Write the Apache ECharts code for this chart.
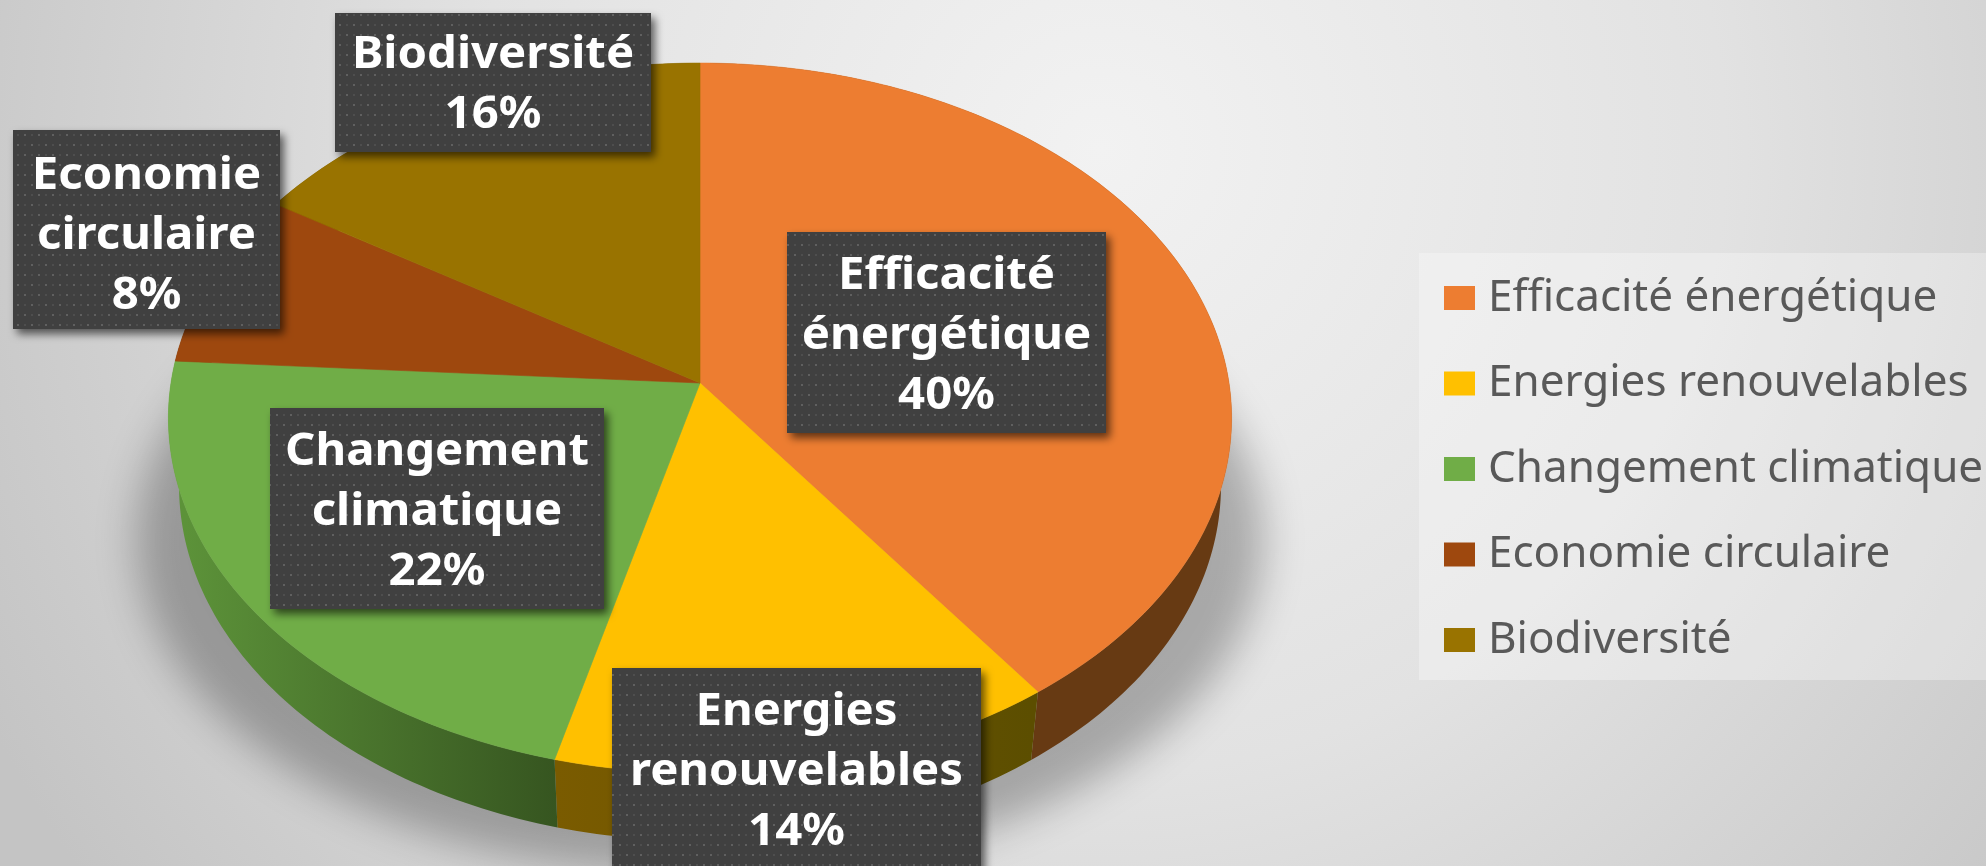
<!DOCTYPE html>
<html>
<head>
<meta charset="utf-8">
<style>html,body{margin:0;padding:0;background:#ddd}#c{width:1986px;height:866px}</style>
<script src="https://cdn.jsdelivr.net/npm/echarts@6/dist/echarts.min.js"></script>
</head>
<body>
<div id="c"></div>
<script>
// ---- data ----
const categories = ['Efficacité énergétique','Energies renouvelables','Changement climatique','Economie circulaire','Biodiversité'];
const values = [40,14,22,8,16];
const labelLines = ['Efficacité\nénergétique','Energies\nrenouvelables','Changement\nclimatique','Economie\ncirculaire','Biodiversité'];
// ---- styles ----
const topColors = ['#ED7D31','#FFC000','#70AD47','#9E480E','#997300'];
const sideColors = [['#673a13','#673a13'],['#5c4e00','#7a5b00'],['#365520','#5c9239'],['#5e2b08','#5e2b08'],['#5b4500','#5b4500']];
// ---- projection of the tilted disc ----
const P = {cx:700, cy:383, A:529, B:351.5, k:0.0986, depth:68, shrink:0.98};
function proj(frac){
  const t = frac*2*Math.PI, X = Math.sin(t), Y = Math.cos(t), d = 1+P.k*Y;
  return [P.cx + P.A*X/d, P.cy - P.B*Y/d];
}
function lower(p){ return [P.cx+(p[0]-P.cx)*P.shrink, p[1]+P.depth]; }
// ---- label box layout ----
const boxes = [
  {x:787,y:232,w:319,h:201},
  {x:612,y:668,w:369,h:210},
  {x:270,y:408,w:334,h:201},
  {x:13,y:130,w:267,h:199},
  {x:335,y:13,w:316,h:139}
];
const textCenterY = [336,772,512,236,85];

function tile(){
  const c = document.createElement('canvas'); c.width=14; c.height=20;
  const g = c.getContext('2d');
  g.fillStyle='#404040'; g.fillRect(0,0,14,20);
  g.fillStyle='#606060';
  g.fillRect(3,4,2,2); g.fillRect(10,14,2,2);
  g.fillStyle='#4e4e4e';
  g.fillRect(10,4,2,2); g.fillRect(3,14,2,2);
  return c;
}
const dots = tile();
const total = values.reduce((a,b)=>a+b,0);

function renderSlice(i){
  return function(params, api){
    const start = values.slice(0,i).reduce((a,b)=>a+b,0)/total;
    const end = start + api.value(0)/total;
    const n = Math.max(2, Math.round((end-start)*360));
    const arc = [];
    for(let j=0;j<=n;j++) arc.push(proj(start+(end-start)*j/n));
    const low = arc.map(lower).reverse();
    const first = low[low.length-1], last = low[0];
    const b = boxes[i];
    return {type:'group', children:[
      {type:'polygon', z2:5, shape:{points:arc.concat(low)},
       style:{fill:{type:'linear',global:true,x:first[0],y:0,x2:last[0],y2:0,
         colorStops:[{offset:0,color:sideColors[i][0]},{offset:1,color:sideColors[i][1]}]}}},
      {type:'polygon', z2:10, shape:{points:[[P.cx,P.cy]].concat(arc)},
       style:{fill:topColors[i], stroke:topColors[i], lineWidth:0.6}},
      {type:'rect', z2:20, shape:{x:b.x,y:b.y,width:b.w,height:b.h},
       style:{fill:{image:dots,repeat:'repeat'}, shadowBlur:9, shadowOffsetX:4, shadowOffsetY:5, shadowColor:'rgba(0,0,0,0.6)'}},
      {type:'text', z2:21, x:b.x+b.w/2, y:textCenterY[i], scaleX:1.075, style:{
        text:labelLines[i]+'\n'+values[i]+'%', x:0, y:0,
        align:'center', verticalAlign:'middle', fill:'#ffffff',
        fontFamily:'Noto Sans', fontWeight:'bold', fontSize:44, lineHeight:60}}
    ]};
  };
}

const chart = echarts.init(document.getElementById('c'), null, {renderer:'canvas', width:1986, height:866});
chart.setOption({
  animation:false,
  backgroundColor:{type:'radial',global:true,x:1100,y:150,r:1250,
    colorStops:[{offset:0,color:'#f2f2f2'},{offset:0.5,color:'#e2e2e2'},{offset:1,color:'#c4c4c4'}]},
  legend:{
    data:categories, orient:'vertical', left:1444, top:274,
    padding:0, itemWidth:31, itemHeight:24, itemGap:37.5,
    icon:'rect',
    textStyle:{fontFamily:'Noto Sans',fontSize:44,color:'#595959',padding:[0,0,0,8],lineHeight:48},
    selectedMode:false
  },
  graphic:{elements:[
    {type:'rect', z:-1, silent:true, shape:{x:1419,y:253,width:567,height:427},
     style:{fill:'rgba(255,255,255,0.3)'}},
    {type:'ellipse', z:-1, silent:true, shape:{cx:700-3000,cy:540,rx:563,ry:335},
     style:{fill:'#000',shadowBlur:40,shadowColor:'rgba(0,0,0,0.27)',shadowOffsetX:3000}}
  ]},
  series:categories.map((name,i)=>({
    type:'custom', name, coordinateSystem:'none', itemStyle:{color:topColors[i]},
    data:[[values[i]]], renderItem:renderSlice(i), silent:true, clip:false
  }))
});
</script>
</body>
</html>
